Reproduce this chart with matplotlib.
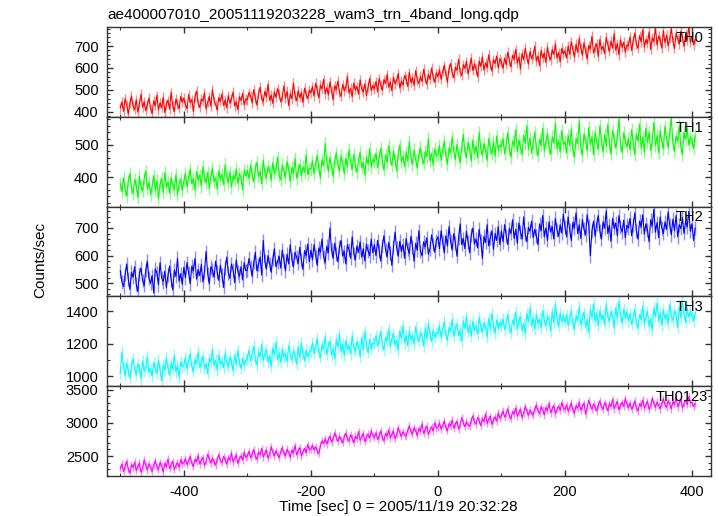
import matplotlib.pyplot as plt
import numpy as np
from matplotlib.ticker import MultipleLocator

plt.rcParams['font.family'] = ['Liberation Sans', 'DejaVu Sans']
plt.rcParams['axes.unicode_minus'] = False

T_START, T_BIN = -500.0, 2.5   # light curve start time and bin width (sec)

# count rates (counts/sec), one value per 2.5 s bin
th0 = [418, 445, 402, 460, 431, 389, 440, 472, 425, 410, 455, 398, 437, 480, 420, 446, 405, 433, 462, 415,
       392, 450, 428, 475, 408, 441, 419, 466, 396, 434, 452, 412, 488, 427, 401, 458, 436, 414, 470, 444,
       462, 430, 415, 478, 441, 456, 402, 468, 495, 437, 420, 458, 449, 486, 412, 443, 470, 425, 500, 452,
       433, 408, 465, 447, 482, 428, 455, 418, 474, 439, 461, 490, 426, 445, 410, 468, 452, 484, 431, 459,
       455, 488, 472, 440, 501, 463, 430, 480, 512, 458, 447, 493, 468, 525, 452, 476, 438, 490, 466, 505,
       481, 445, 470, 518, 462, 494, 428, 483, 459, 530, 473, 450, 496, 465, 487, 442, 508, 478, 461, 499,
       486, 515, 472, 530, 498, 463, 521, 505, 548, 482, 510, 477, 536, 494, 455, 519, 502, 540, 488, 470,
       525, 496, 512, 560, 484, 507, 468, 531, 499, 516, 480, 545, 503, 491, 528, 474, 514, 552, 497, 520,
       505, 538, 490, 552, 521, 498, 547, 530, 570, 512, 535, 496, 558, 527, 543, 575, 508, 540, 522, 566,
       549, 515, 580, 533, 556, 520, 588, 545, 529, 562, 538, 594, 551, 526, 571, 548, 600, 557, 535, 578,
       560, 592, 548, 585, 612, 570, 535, 598, 620, 577, 556, 603, 590, 640, 581, 566, 615, 598, 630, 572,
       609, 645, 588, 618, 596, 560, 632, 607, 650, 590, 624, 602, 660, 615, 586, 638, 621, 655, 600, 642,
       628, 598, 645, 615, 672, 633, 605, 658, 640, 685, 622, 650, 595, 666, 638, 690, 648, 617, 675, 642,
       660, 700, 631, 655, 610, 680, 646, 668, 625, 695, 652, 637, 684, 662, 710, 645, 671, 628, 690, 664,
       678, 645, 700, 662, 720, 683, 650, 708, 671, 735, 690, 658, 715, 676, 640, 702, 688, 745, 668, 695,
       710, 652, 730, 684, 698, 665, 740, 706, 675, 722, 690, 756, 681, 712, 660, 728, 694, 718, 672, 705,
       702, 742, 680, 725, 760, 708, 690, 748, 718, 775, 695, 730, 712, 765, 684, 738, 720, 785, 705, 745,
       728, 690, 770, 715, 750, 700, 735, 780, 722, 688, 758, 733, 710, 768, 740, 698, 752, 726, 790, 716,
       744, 705, 730]

th1 = [380, 355, 398, 362, 341, 388, 410, 366, 349, 392, 375, 336, 402, 370, 357, 395, 418, 364, 383, 346,
       371, 405, 359, 389, 333, 378, 396, 352, 414, 368, 385, 350, 399, 374, 361, 408, 345, 381, 393, 358,
       388, 412, 370, 401, 425, 379, 395, 358, 418, 390, 406, 372, 432, 398, 383, 415, 365, 402, 428, 386,
       397, 363, 420, 392, 409, 377, 438, 400, 384, 416, 369, 405, 393, 426, 380, 411, 398, 360, 422, 404,
       420, 395, 437, 408, 385, 428, 446, 402, 418, 380, 452, 414, 398, 433, 421, 390, 445, 410, 426, 462,
       405, 392, 438, 417, 400, 449, 425, 386, 430, 412, 458, 396, 421, 440, 404, 432, 415, 470, 408, 427,
       425, 450, 410, 443, 468, 428, 398, 455, 436, 505, 448, 418, 461, 430, 402, 452, 475, 438, 420, 466,
       442, 410, 458, 432, 485, 446, 424, 470, 437, 415, 452, 478, 429, 445, 406, 463, 440, 488, 431, 455,
       448, 475, 430, 462, 490, 452, 422, 470, 445, 498, 460, 436, 481, 455, 418, 472, 500, 447, 465, 432,
       478, 450, 510, 462, 440, 485, 455, 428, 470, 492, 458, 442, 480, 463, 520, 450, 474, 438, 488, 466,
       470, 498, 452, 485, 512, 468, 440, 492, 475, 525, 480, 455, 502, 470, 445, 495, 532, 478, 462, 508,
       486, 450, 515, 474, 497, 460, 540, 488, 468, 505, 482, 452, 520, 490, 472, 510, 465, 528, 484, 500,
       495, 520, 472, 505, 538, 488, 462, 512, 498, 548, 480, 515, 492, 470, 530, 505, 560, 486, 522, 475,
       508, 540, 490, 466, 518, 500, 552, 482, 512, 535, 494, 470, 526, 506, 568, 488, 515, 478, 545, 502,
       510, 475, 530, 498, 548, 485, 462, 520, 505, 575, 492, 468, 535, 512, 482, 555, 500, 526, 470, 540,
       508, 488, 560, 515, 478, 532, 496, 565, 505, 472, 545, 518, 490, 528, 580, 502, 476, 538, 512, 494,
       520, 485, 548, 505, 470, 535, 512, 565, 490, 525, 478, 552, 508, 540, 482, 515, 570, 498, 530, 475,
       545, 510, 488, 558, 520, 492, 538, 585, 505, 480, 528, 512, 560, 495, 470, 540, 518, 552, 500, 525,
       515, 488, 530]

th2 = [545, 505, 488, 532, 570, 515, 478, 540, 522, 560, 498, 470, 535, 555, 510, 492, 548, 580, 518, 500,
       528, 465, 552, 538, 495, 575, 520, 506, 544, 485, 530, 562, 512, 476, 548, 525, 590, 508, 535, 496,
       558, 520, 575, 538, 498, 562, 545, 590, 515, 550, 528, 568, 505, 542, 615, 535, 498, 560, 548, 522,
       580, 540, 510, 565, 530, 485, 555, 595, 538, 518, 570, 548, 502, 585, 542, 525, 560, 512, 575, 545,
       548, 590, 560, 525, 575, 612, 545, 568, 595, 530, 655, 580, 552, 600, 570, 540, 588, 625, 560, 578,
       598, 555, 620, 582, 545, 605, 570, 640, 588, 560, 612, 595, 572, 630, 585, 550, 618, 600, 642, 578,
       620, 585, 640, 600, 565, 628, 612, 660, 595, 575, 635, 610, 700, 620, 590, 645, 605, 578, 630, 655,
       598, 615, 570, 640, 622, 590, 668, 608, 585, 635, 612, 650, 595, 625, 580, 642, 618, 600, 660, 610,
       640, 600, 655, 618, 580, 635, 672, 622, 595, 648, 610, 565, 630, 685, 628, 598, 652, 615, 640, 590,
       662, 625, 608, 670, 632, 580, 645, 620, 690, 615, 600, 650, 632, 665, 605, 625, 675, 640, 612, 655,
       668, 625, 690, 648, 610, 672, 635, 705, 652, 620, 680, 645, 598, 665, 715, 640, 662, 625, 688, 650,
       610, 675, 700, 642, 660, 628, 695, 655, 590, 670, 648, 712, 635, 665, 690, 622, 680, 655, 705, 640,
       690, 650, 712, 672, 640, 698, 680, 730, 662, 695, 645, 718, 685, 660, 740, 678, 650, 702, 688, 725,
       665, 695, 672, 640, 715, 690, 745, 668, 700, 655, 722, 685, 705, 660, 735, 692, 670, 712, 682, 750,
       705, 668, 740, 692, 655, 720, 700, 755, 680, 712, 662, 730, 695, 675, 748, 708, 600, 690, 725, 670,
       715, 745, 688, 660, 722, 700, 762, 680, 710, 652, 735, 698, 718, 672, 745, 705, 685, 728, 665, 710,
       700, 735, 672, 712, 755, 690, 660, 725, 705, 748, 678, 715, 692, 650, 730, 708, 768, 685, 720, 665,
       740, 700, 680, 722, 695, 758, 710, 675, 732, 690, 745, 668, 712, 698, 738, 680, 725, 705, 760, 688,
       715, 655, 700]

th3 = [1020, 1150, 1060, 1005, 1080, 1035, 990, 1065, 1110, 1040, 1012, 1075, 1050, 985, 1095, 1030, 1060, 1120, 1025, 1048,
       1002, 1085, 1055, 1018, 1100, 1040, 975, 1070, 1038, 1115, 1052, 1008, 1082, 1045, 1130, 1028, 1066, 995, 1090, 1058,
       1070, 1115, 1045, 1098, 1140, 1062, 1030, 1105, 1080, 1150, 1055, 1092, 1125, 1048, 1078, 1018, 1110, 1088, 1165, 1065,
       1100, 1040, 1130, 1075, 1095, 1052, 1145, 1082, 1060, 1118, 1090, 1035, 1128, 1072, 1160, 1085, 1050, 1112, 1068, 1102,
       1110, 1160, 1095, 1135, 1185, 1105, 1070, 1150, 1120, 1195, 1098, 1140, 1165, 1088, 1125, 1060, 1175, 1130, 1210, 1102,
       1145, 1085, 1168, 1118, 1138, 1092, 1190, 1128, 1105, 1158, 1132, 1075, 1180, 1115, 1205, 1140, 1095, 1162, 1120, 1150,
       1155, 1205, 1140, 1182, 1232, 1148, 1115, 1195, 1168, 1245, 1135, 1188, 1215, 1130, 1172, 1108, 1225, 1178, 1260, 1150,
       1198, 1128, 1220, 1165, 1190, 1138, 1250, 1175, 1152, 1212, 1185, 1120, 1238, 1162, 1275, 1195, 1145, 1228, 1170, 1205,
       1200, 1250, 1185, 1228, 1275, 1195, 1162, 1240, 1215, 1290, 1180, 1232, 1262, 1190, 1222, 1158, 1280, 1235, 1310, 1205,
       1255, 1188, 1278, 1225, 1250, 1198, 1305, 1240, 1215, 1268, 1245, 1185, 1298, 1230, 1325, 1258, 1212, 1285, 1238, 1270,
       1262, 1310, 1240, 1288, 1335, 1255, 1222, 1300, 1275, 1350, 1245, 1295, 1322, 1250, 1285, 1215, 1340, 1292, 1368, 1268,
       1315, 1248, 1338, 1282, 1310, 1258, 1362, 1298, 1272, 1328, 1305, 1240, 1355, 1288, 1385, 1312, 1265, 1345, 1295, 1330,
       1305, 1352, 1285, 1330, 1378, 1298, 1265, 1345, 1318, 1395, 1290, 1338, 1365, 1280, 1325, 1260, 1385, 1335, 1420, 1310,
       1358, 1288, 1380, 1322, 1350, 1295, 1405, 1340, 1312, 1370, 1345, 1278, 1398, 1328, 1440, 1355, 1305, 1388, 1335, 1372,
       1330, 1380, 1312, 1355, 1405, 1322, 1290, 1370, 1342, 1425, 1315, 1362, 1392, 1300, 1350, 1270, 1410, 1360, 1445, 1335,
       1385, 1310, 1402, 1348, 1375, 1318, 1438, 1365, 1338, 1398, 1370, 1295, 1420, 1352, 1460, 1378, 1325, 1412, 1358, 1395,
       1340, 1385, 1318, 1362, 1412, 1328, 1295, 1378, 1350, 1430, 1320, 1368, 1398, 1305, 1355, 1282, 1418, 1365, 1450, 1338,
       1392, 1315, 1408, 1352, 1380, 1322, 1440, 1370, 1342, 1402, 1375, 1300, 1425, 1358, 1465, 1382, 1330, 1415, 1362, 1398,
       1375, 1340, 1390]

th0123 = [2310, 2380, 2265, 2350, 2420, 2300, 2245, 2370, 2330, 2410, 2280, 2345, 2395, 2255, 2325, 2440, 2360, 2290, 2385, 2320,
          2270, 2365, 2430, 2335, 2300, 2405, 2350, 2260, 2390, 2340, 2455, 2310, 2375, 2420, 2295, 2360, 2400, 2330, 2445, 2380,
          2400, 2460, 2370, 2425, 2495, 2390, 2345, 2450, 2415, 2510, 2380, 2440, 2480, 2360, 2420, 2530, 2455, 2395, 2470, 2410,
          2365, 2450, 2520, 2430, 2400, 2495, 2445, 2375, 2480, 2435, 2545, 2410, 2470, 2515, 2390, 2460, 2505, 2440, 2560, 2480,
          2500, 2570, 2475, 2530, 2600, 2495, 2450, 2560, 2520, 2615, 2485, 2545, 2590, 2465, 2530, 2640, 2560, 2500, 2580, 2520,
          2475, 2565, 2630, 2540, 2505, 2605, 2555, 2480, 2590, 2545, 2660, 2515, 2580, 2625, 2500, 2570, 2615, 2550, 2675, 2595,
          2605, 2660, 2590, 2640, 2570, 2540, 2660, 2730, 2690, 2760, 2680, 2750, 2800, 2710, 2765, 2850, 2780, 2720, 2800, 2745,
          2700, 2790, 2845, 2760, 2725, 2820, 2770, 2700, 2800, 2760, 2870, 2735, 2795, 2840, 2715, 2785, 2830, 2770, 2880, 2810,
          2780, 2850, 2750, 2810, 2880, 2775, 2730, 2840, 2800, 2895, 2770, 2830, 2875, 2760, 2820, 2930, 2850, 2790, 2870, 2815,
          2800, 2890, 2955, 2865, 2830, 2930, 2880, 2805, 2915, 2870, 2985, 2840, 2905, 2950, 2825, 2895, 2940, 2875, 3000, 2920,
          2930, 3000, 2905, 2960, 3030, 2925, 2880, 2990, 2950, 3045, 2920, 2980, 3025, 2905, 2970, 3080, 3000, 2940, 3020, 2965,
          2950, 3040, 3105, 3015, 2980, 3080, 3030, 2955, 3065, 3020, 3135, 2990, 3055, 3100, 2975, 3045, 3090, 3025, 3150, 3070,
          3110, 3180, 3085, 3140, 3210, 3105, 3060, 3170, 3130, 3225, 3100, 3160, 3205, 3080, 3145, 3250, 3175, 3115, 3195, 3140,
          3120, 3210, 3270, 3180, 3145, 3245, 3195, 3120, 3230, 3185, 3295, 3150, 3215, 3260, 3135, 3205, 3250, 3185, 3305, 3225,
          3200, 3270, 3175, 3230, 3300, 3195, 3150, 3260, 3220, 3315, 3190, 3250, 3295, 3130, 3235, 3340, 3265, 3205, 3285, 3230,
          3180, 3270, 3330, 3240, 3205, 3305, 3255, 3180, 3290, 3245, 3355, 3210, 3275, 3320, 3195, 3265, 3310, 3245, 3365, 3285,
          3230, 3300, 3205, 3260, 3330, 3225, 3180, 3290, 3250, 3345, 3220, 3280, 3325, 3200, 3265, 3370, 3295, 3235, 3315, 3260,
          3210, 3300, 3360, 3270, 3235, 3335, 3285, 3210, 3320, 3275, 3385, 3240, 3305, 3350, 3225, 3295, 3340, 3275, 3395, 3300,
          3310, 3245, 3290]

bands = ['TH0', 'TH1', 'TH2', 'TH3', 'TH0123']
rates = [th0, th1, th2, th3, th0123]
rate_err = [22, 20, 25, 35, 55]   # typical 1-sigma error per bin
colors = ['#ff0000', '#00ff00', '#0000ff', '#00ffff', '#ff00ff']
ylims = [(376, 787), (308, 587), (453, 777), (940, 1490), (2195, 3550)]
ymajor = [100, 100, 100, 200, 500]
yminor = [20, 20, 20, 100, 100]

W, H = 718, 516
left, right = 107, 711
edges = [27, 117, 206.7, 296.3, 386.3, 476.3]

fig = plt.figure(figsize=(W / 100, H / 100), dpi=100)

for i in range(5):
    rect = [left / W, 1 - edges[i + 1] / H, (right - left) / W, (edges[i + 1] - edges[i]) / H]
    ax = fig.add_axes(rect)
    t = T_START + T_BIN * np.arange(len(rates[i]))
    ax.errorbar(t, rates[i], yerr=rate_err[i], fmt='none', ecolor=colors[i],
                elinewidth=1.0, alpha=0.45)
    ax.plot(t, rates[i], color=colors[i], lw=0.8)
    ax.set_xlim(-521, 430)
    ax.set_ylim(*ylims[i])
    ax.xaxis.set_major_locator(MultipleLocator(200))
    ax.xaxis.set_minor_locator(MultipleLocator(100))
    ax.yaxis.set_major_locator(MultipleLocator(ymajor[i]))
    ax.yaxis.set_minor_locator(MultipleLocator(yminor[i]))
    ax.tick_params(which='both', direction='in', top=True, right=True, labelsize=10.5, color='#333333')
    ax.tick_params(which='major', length=4.5, width=1.0, pad=6)
    ax.tick_params(which='minor', length=2.5, width=0.8)
    for sp in ax.spines.values():
        sp.set_color('#333333')
        sp.set_linewidth(1.0)
    if i < 4:
        ax.tick_params(labelbottom=False)
    xpos = 1 - 8 / (right - left) if i < 4 else 1 - 3 / (right - left)
    ax.text(xpos, 0.96, bands[i], transform=ax.transAxes, ha='right', va='top', fontsize=10.5)

fig.text(left / W, 1 - 15 / H, 'ae400007010_20051119203228_wam3_trn_4band_long.qdp',
         ha='left', va='center', fontsize=11)
fig.text(40 / W, 1 - 260 / H, 'Counts/sec', rotation=90, ha='center', va='center', fontsize=11)
fig.text(398 / W, 1 - 507 / H, 'Time [sec] 0 = 2005/11/19 20:32:28', ha='center', va='center', fontsize=11)

fig.savefig('out.png', dpi=100)
